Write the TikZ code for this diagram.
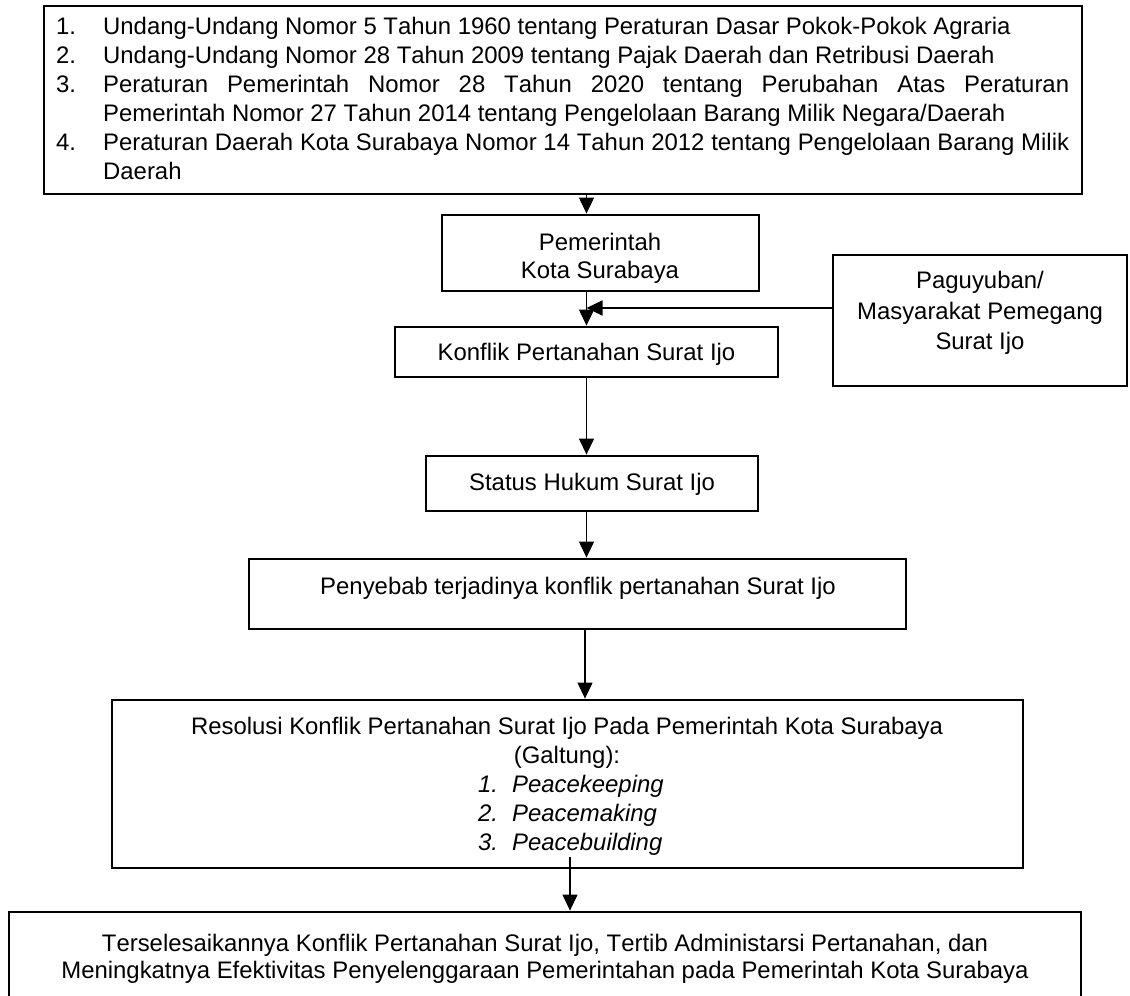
\documentclass[tikz,border=0pt]{standalone}
\usepackage{fontspec}
\setmainfont{Liberation Sans}[Kerning=Off,Ligatures=NoCommon]
\usetikzlibrary{arrows.meta}
\hyphenpenalty=10000 \exhyphenpenalty=10000 \tolerance=10000 \hbadness=10000
\newcommand\fz[1]{\fontsize{23.9}{#1}\selectfont}
\begin{document}
\begin{tikzpicture}[x=1pt,y=-1pt,
  box/.style={draw, line width=2.8pt, inner sep=0pt},
  txt/.style={inner sep=0pt, anchor=north, align=center},
  conn/.style={line width=1.2pt, -{Triangle[length=16pt,width=15pt]}},
  plain/.style={line width=1.2pt}]
\useasboundingbox (0,0) rectangle (1130,996);
\fill[white] (0,0) rectangle (1130,996);

% boxes
\node[box, minimum width=1038pt, minimum height=188pt] (top) at (563,100) {};
\node[box, minimum width=317pt, minimum height=76pt] (pem) at (600.5,253) {};
\node[box, minimum width=383pt, minimum height=50pt] (kon) at (586.5,352) {};
\node[box, minimum width=294pt, minimum height=131pt] (pag) at (980,320.5) {};
\node[box, minimum width=332pt, minimum height=55pt] (sta) at (592,483.5) {};
\node[box, minimum width=657pt, minimum height=70pt] (pen) at (577.5,594) {};
\node[box, minimum width=911pt, minimum height=168pt] (res) at (567.5,784) {};
\node[box, minimum width=1072pt, minimum height=88pt] (fin) at (545,956) {};

% texts
\node[inner sep=0pt, anchor=north west, font=\fz{29}] (topt) at (56,14.2) {%
\begin{tabular}{@{}p{47pt}@{}p{966pt}@{}}
1. & Undang-Undang Nomor 5 Tahun 1960 tentang Peraturan Dasar Pokok-Pokok Agraria\\
2. & Undang-Undang Nomor 28 Tahun 2009 tentang Pajak Daerah dan Retribusi Daerah\\
3. & Peraturan Pemerintah Nomor 28 Tahun 2020 tentang Perubahan Atas Peraturan\linebreak Pemerintah Nomor 27 Tahun 2014 tentang Pengelolaan Barang Milik Negara/Daerah\\
4. & Peraturan Daerah Kota Surabaya Nomor 14 Tahun 2012 tentang Pengelolaan Barang Milik Daerah
\end{tabular}};
\node[txt, font=\fz{28}] (pemt) at (600,230.4) {\strut Pemerintah\\\strut Kota Surabaya};
\node[txt, font=\fz{27.6}] (kont) at (586.5,341.2) {\strut Konflik Pertanahan Surat Ijo};
\node[txt, font=\fz{30.5}] (pagt) at (980,267.2) {\strut Paguyuban/\\\strut Masyarakat Pemegang\\\strut Surat Ijo};
\node[txt, font=\fz{27.6}] (stat) at (592,471.2) {\strut Status Hukum Surat Ijo};
\node[txt, font=\fz{27.6}] (pent) at (578,575.2) {\strut Penyebab terjadinya konflik pertanahan Surat Ijo};
\node[txt, font=\fz{29}] (rest) at (567,714.2) {\strut Resolusi Konflik Pertanahan Surat Ijo Pada Pemerintah Kota Surabaya\\\strut (Galtung):};
\node[inner sep=0pt, anchor=north west, font=\fz{29}\itshape] (resl) at (478,772.2) {%
\begin{tabular}{@{}p{34pt}@{}l@{}}
1. & Peacekeeping\\
2. & Peacemaking\\
3. & Peacebuilding
\end{tabular}};
\node[txt, font=\fz{27.6}] (fint) at (545,931.7) {\strut Terselesaikannya Konflik Pertanahan Surat Ijo, Tertib Administarsi Pertanahan, dan\\\strut Meningkatnya Efektivitas Penyelenggaraan Pemerintahan pada Pemerintah Kota Surabaya};

% connectors
\coordinate (col) at (586.5,0);
\coordinate (col2) at (585,0);
\coordinate (mid) at (586.5,308);
\coordinate (rs) at (570,857);
\draw[conn] (top.south -| col) -- (pem.north -| col);
\draw[conn] (pem.south -| col) -- (kon.north -| col);
\draw[conn] (pag.west |- mid) -- (mid);
\draw[conn] (kon.south -| col) -- (sta.north -| col);
\draw[conn] (sta.south -| col) -- (pen.north -| col);
\draw[conn] (pen.south -| col2) -- (res.north -| col2);
\draw[conn] (rs) -- (fin.north -| rs);
\end{tikzpicture}
\end{document}
